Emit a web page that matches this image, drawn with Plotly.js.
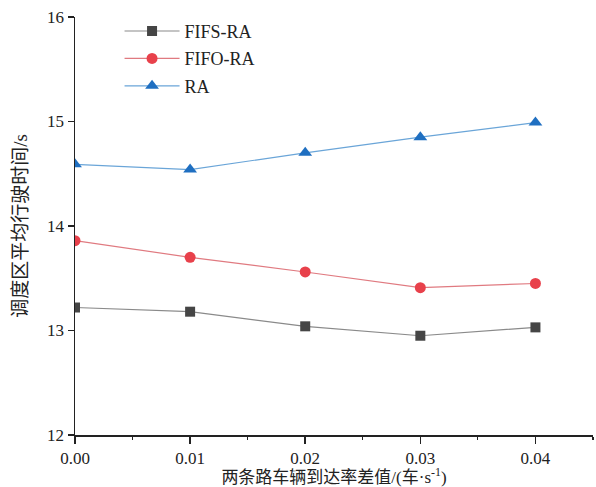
<!DOCTYPE html>
<html><head><meta charset="utf-8">
<script src="https://cdn.plot.ly/plotly-3.0.1.min.js"></script>
<style>html,body{margin:0;padding:0;background:#fff}#c{width:596px;height:487px}</style>
</head><body><div id="c"></div>
<script>
const xVals = [0.00, 0.01, 0.02, 0.03, 0.04];
const fifsRA = [13.22, 13.18, 13.04, 12.95, 13.03];
const fifoRA = [13.86, 13.70, 13.56, 13.41, 13.45];
const ra = [14.59, 14.54, 14.70, 14.85, 14.99];
const seriesNames = ['FIFS-RA', 'FIFO-RA', 'RA'];
const xTicks = [0, 0.01, 0.02, 0.03, 0.04];
const xTickText = ['0.00', '0.01', '0.02', '0.03', '0.04'];
const yTicks = [12, 13, 14, 15, 16];

const serif = 'Liberation Serif, Times New Roman, serif';
const cjk = 'Liberation Serif, Noto Sans CJK SC, serif';

const traces = [
  {x: xVals, y: fifsRA, name: seriesNames[0], legendgroup: 'a', mode: 'lines+markers',
   line: {color: '#8a8a8a', width: 1.2},
   marker: {symbol: 'square', size: 10, color: '#454545'}},
  {x: xVals, y: fifoRA, name: seriesNames[1], legendgroup: 'b', mode: 'lines+markers',
   line: {color: '#e07a80', width: 1.2},
   marker: {symbol: 'circle', size: 11, color: '#e8414b'}},
  {x: xVals, y: ra, name: seriesNames[2], legendgroup: 'c', mode: 'lines+markers',
   line: {color: '#6aa5d8', width: 1.2},
   marker: {symbol: 'triangle-up', size: 12, color: '#1f6fc1'}}
];

const layout = {
  width: 596, height: 487,
  margin: {l: 75, r: 3, t: 17, b: 52},
  paper_bgcolor: '#fff', plot_bgcolor: '#fff',
  showlegend: true,
  legend: {x: 0.086, y: 1.01, xanchor: 'left', yanchor: 'top',
    font: {family: serif, size: 18, color: '#222'},
    bgcolor: 'rgba(0,0,0,0)', itemwidth: 55, traceorder: 'grouped', tracegroupgap: 1},
  xaxis: {
    range: [0, 0.045], tickvals: xTicks, ticktext: xTickText,
    showgrid: false, zeroline: false, showline: true, linecolor: '#222', linewidth: 1.5,
    ticks: 'outside', ticklen: 7, tickwidth: 1.5, tickcolor: '#222',
    minor: {dtick: 0.005, ticks: 'outside', ticklen: 3, tickwidth: 1.2, tickcolor: '#222', showgrid: false},
    tickfont: {family: serif, size: 17, color: '#222'},
    title: {text: '两条路车辆到达率差值/(车·s<sup>-1</sup>)', font: {family: cjk, size: 17, color: '#222'}, standoff: 8}
  },
  yaxis: {
    range: [12, 16], tickvals: yTicks,
    showgrid: false, zeroline: false, showline: true, linecolor: '#222', linewidth: 1.5,
    ticks: 'outside', ticklen: 6, tickwidth: 1.5, tickcolor: '#222',
    tickfont: {family: serif, size: 17, color: '#222'},
    title: {text: '调度区平均行驶时间/s', font: {family: cjk, size: 19, color: '#222'}, standoff: 14}
  }
};

Plotly.newPlot('c', traces, layout, {displayModeBar: false, staticPlot: true});
</script></body></html>
